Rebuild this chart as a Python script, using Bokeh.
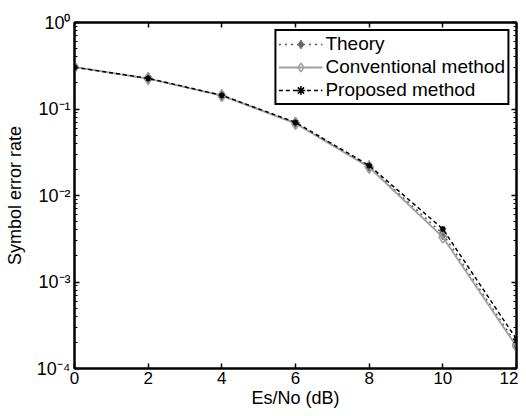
from bokeh.plotting import figure
from bokeh.models import (LinearAxis, LogAxis, FixedTicker, CustomJSTickFormatter,
                          Legend, LegendItem, Range1d, LogTicker)
from bokeh.embed import file_html
from bokeh.resources import INLINE

# data
snr_db = [0, 2, 4, 6, 8, 10, 12]
theory = [0.304, 0.225, 0.143, 0.069, 0.0216, 0.0036, 0.00019]
conventional = [0.304, 0.225, 0.143, 0.068, 0.0212, 0.0033, 0.000180]
proposed = [0.304, 0.226, 0.144, 0.070, 0.0222, 0.0041, 0.000218]
x_ticks = [0, 2, 4, 6, 8, 10, 12]
y_ticks = [1e-4, 1e-3, 1e-2, 1e-1, 1]
y_tick_labels = ["10⁻⁴", "10⁻³", "10⁻²", "10⁻¹", "10⁰"]

FONT = "Liberation Sans"

p = figure(width=518, height=408, frame_width=442, frame_height=346,
           y_axis_type="log", x_range=Range1d(0, 12), y_range=Range1d(1e-4, 1),
           output_backend="svg", toolbar_location=None,
           min_border_left=74, min_border_right=2, min_border_top=22, min_border_bottom=40)
p.xgrid.visible = False
p.ygrid.visible = False
p.outline_line_color = "black"
p.outline_line_width = 2

def style_axis(ax):
    ax.axis_line_width = 2
    ax.axis_line_color = "black"
    ax.major_tick_in = 5
    ax.major_tick_out = 0
    ax.minor_tick_in = 3
    ax.minor_tick_out = 0
    ax.major_tick_line_width = 1.5
    ax.major_label_text_font = FONT
    ax.major_label_text_font_size = "17px"
    ax.major_label_text_color = "black"
    ax.axis_label_text_font = FONT
    ax.axis_label_text_font_size = "18px"
    ax.axis_label_text_font_style = "normal"
    ax.axis_label_text_color = "black"

xax = p.xaxis[0]
xax.ticker = FixedTicker(ticks=x_ticks)
xax.axis_label = "Es/No (dB)"
style_axis(xax)
xax.axis_label_standoff = 1
xax.major_label_standoff = 3

yax = p.yaxis[0]
yax.ticker = LogTicker(num_minor_ticks=10)
yax.formatter = CustomJSTickFormatter(args=dict(labels=y_tick_labels),
    code="const e = Math.round(Math.log10(tick)); return labels[e + 4];")
yax.axis_label = "Symbol error rate"
style_axis(yax)
yax.major_label_text_font_size = "18px"
yax.axis_label_standoff = 9
yax.major_label_standoff = 4

top = LinearAxis(ticker=FixedTicker(ticks=x_ticks),
                 formatter=CustomJSTickFormatter(code="return '';"))
style_axis(top)
top.major_label_standoff = 0
p.add_layout(top, "above")
right = LogAxis(ticker=LogTicker(num_minor_ticks=10),
                formatter=CustomJSTickFormatter(code="return '';"))
style_axis(right)
right.major_label_standoff = 0
p.add_layout(right, "right")

l1 = p.line(snr_db, theory, line_color="#555555", line_width=1.5, line_dash="dotted")
s1 = p.scatter(snr_db, theory, marker="diamond", size=12, fill_color="#666666",
               line_color="#777777")
l2 = p.line(snr_db, conventional, line_color="#a0a0a0", line_width=1.8)
s2 = p.scatter(snr_db, conventional, marker="diamond", size=12, fill_color="white",
               fill_alpha=0, line_color="#a0a0a0", line_width=1.5)
l3 = p.line(snr_db, proposed, line_color="black", line_width=1.5, line_dash="4 3")
s3 = p.scatter(snr_db, proposed, marker="asterisk", size=6, line_color="black",
               line_width=1.5)

legend = Legend(items=[
    LegendItem(label="Theory", renderers=[l1, s1]),
    LegendItem(label="Conventional method", renderers=[l2, s2]),
    LegendItem(label="Proposed method", renderers=[l3, s3]),
], location="top_right")
legend.label_text_font = FONT
legend.label_text_font_size = "19px"
legend.label_text_color = "black"
legend.border_line_color = "black"
legend.border_line_width = 2
legend.border_line_alpha = 1
legend.background_fill_alpha = 1
legend.margin = 7
legend.padding = 2
legend.spacing = 1
legend.glyph_width = 44
legend.glyph_height = 22
legend.label_height = 22
legend.label_standoff = 3
p.add_layout(legend)

open("out.html", "w").write(file_html(p, INLINE))
